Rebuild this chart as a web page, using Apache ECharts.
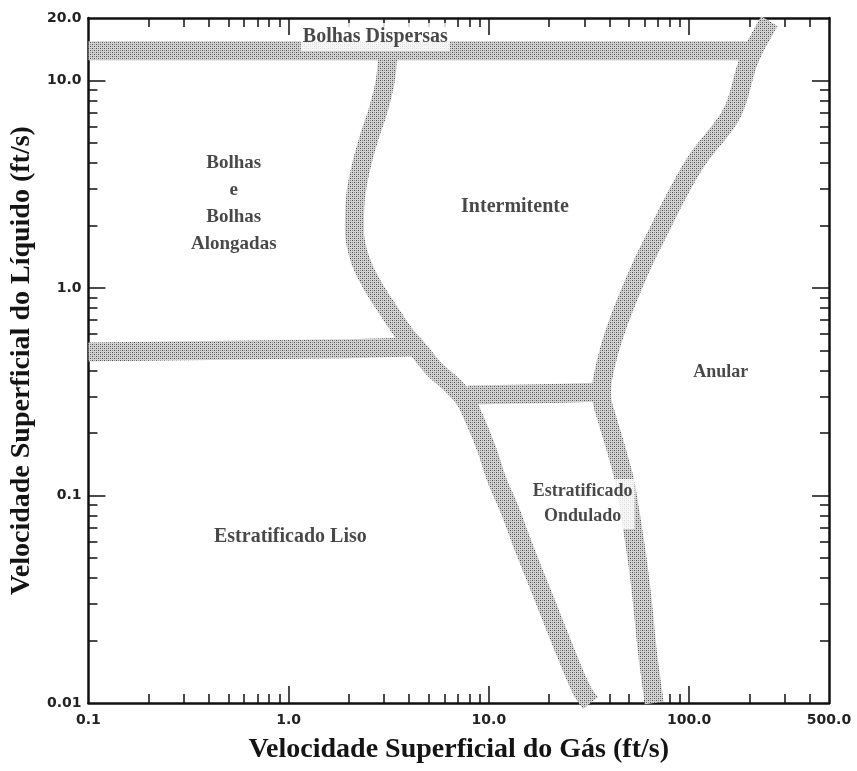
<!DOCTYPE html>
<html><head><meta charset="utf-8">
<script src="https://cdn.jsdelivr.net/npm/echarts@6/dist/echarts.min.js"></script>
<style>html,body{margin:0;padding:0;background:#fff}#c{width:857px;height:771px}</style>
</head><body><div id="c"></div>
<script>
// ---- axis ticks / labels ----
const xLabelValues = [0.1, 1, 10, 100, 500];
const xMajorTicks = [1, 10, 100];
const xMinorTicks = [0.2,0.3,0.4,0.5,0.6,0.7,0.8,0.9, 2,3,4,5,6,7,8,9, 20,30,40,50,60,70,80,90, 200,300,400];
const yLabelValues = [0.01, 0.1, 1, 10, 20];
const yMajorTicks = [0.1, 1, 10];
const yMinorTicks = [0.02,0.03,0.04,0.05,0.06,0.07,0.08,0.09, 0.2,0.3,0.4,0.5,0.6,0.7,0.8,0.9, 2,3,4,5,6,7,8,9];

// ---- boundary bands [gas ft/s, liquid ft/s] ----
const dispersedBubbleBoundary = [[0.1,13.9],[1,13.9],[10,13.9],[100,13.9],[215,13.9]];
const bubbleSlugBoundary = [[3.13,13.9],[3.04,10.0],[2.80,7.2],[2.50,5.16],[2.28,3.70],[2.15,2.65],[2.13,1.90],[2.28,1.36],[2.62,1.03],[3.14,0.783],[3.82,0.594],[4.44,0.503],[5.39,0.403],[6.54,0.341],[7.60,0.289],[8.51,0.231],[9.77,0.166],[10.96,0.119],[12.7,0.0853],[15.1,0.0547],[19.0,0.0314],[23.9,0.0180],[29.0,0.0116],[32.2,0.01]];
const stratifiedBubbleBoundary = [[0.1,0.492],[0.65,0.503],[2,0.51],[4.2,0.52]];
const wavySlugBoundary = [[7.87,0.305],[17.9,0.309],[36.5,0.315]];
const annularBoundary = [[252,19.3],[199,12.5],[164,6.97],[109.6,4.14],[84.2,2.65],[70.9,1.90],[59.7,1.36],[51.4,0.978],[44.8,0.701],[40.0,0.503],[36.9,0.360],[36.5,0.305],[39.1,0.231],[43.3,0.166],[47.5,0.119],[51.4,0.0763],[55.1,0.0490],[58.3,0.0314],[61.8,0.0180],[67.0,0.01]];

// ---- region labels ----
const regionNames = ['Bolhas Dispersas','Intermitente','Bolhas\ne\nBolhas\nAlongadas','Anular','Estratificado\nOndulado','Estratificado Liso'];
const regionGas = [2.71, 13.5, 0.532, 144, 29.4, 1.02];
const regionLiquid = [16.2, 2.46, 2.54, 0.394, 0.0911, 0.0632];
const regionFontSize = [20, 20, 19, 18, 18, 20];

function fmt(v){ const n = Number(Number(v).toPrecision(6)); return n < 1 ? String(n) : n.toFixed(1); }

function stipple(){
  const c = document.createElement('canvas'); c.width = 4; c.height = 4;
  const g = c.getContext('2d');
  g.fillStyle = '#d2d2d2'; g.fillRect(0,0,4,4);
  g.fillStyle = '#505050'; g.fillRect(0,0,1,1); g.fillRect(2,2,1,1);
  g.fillStyle = '#8c8c8c'; g.fillRect(2,0,1,1); g.fillRect(0,2,1,1);
  return c;
}
const bandColor = {image: stipple(), repeat: 'repeat'};

const chart = echarts.init(document.getElementById('c'), null, {renderer:'canvas'});
const axisTxt = {fontFamily:'DejaVu Sans', fontWeight:'bold', fontSize:14, color:'#222'};
const lineSt = {color:'#111', width:2.5};
const titleTxt = {fontFamily:'Liberation Serif', fontWeight:'bold', fontSize:28, color:'#141414'};

function xAx(pos, major, showLine, withLabels){
  const a = {type:'log', logBase:10, min:0.1, max:500, position:pos,
    axisLine:{show:showLine, lineStyle:lineSt},
    axisTick:{show:true, inside:true, length: major ? 17 : 9, customValues: major ? xMajorTicks : xMinorTicks, lineStyle:{color:'#111', width:1.5}},
    axisLabel:{show:withLabels}, splitLine:{show:false}, minorTick:{show:false}};
  if (withLabels){
    a.axisLabel = Object.assign({show:true, customValues:xLabelValues, formatter:fmt, margin:10}, axisTxt);
    a.name = 'Velocidade Superficial do Gás (ft/s)';
    a.nameLocation = 'middle'; a.nameGap = 33;
    a.nameTextStyle = titleTxt;
  }
  return a;
}
function yAx(pos, major, showLine, withLabels){
  const a = {type:'log', logBase:10, min:0.01, max:20, position:pos,
    axisLine:{show:showLine, lineStyle:lineSt},
    axisTick:{show:true, inside:true, length: major ? 17 : 9, customValues: major ? yMajorTicks : yMinorTicks, lineStyle:{color:'#111', width:1.5}},
    axisLabel:{show:withLabels}, splitLine:{show:false}, minorTick:{show:false}};
  if (withLabels){
    a.axisLabel = Object.assign({show:true, customValues:yLabelValues, formatter:fmt, margin:7}, axisTxt);
    a.name = 'Velocidade Superficial do Líquido (ft/s)';
    a.nameLocation = 'middle'; a.nameGap = 52;
    a.nameTextStyle = titleTxt;
  }
  return a;
}

function band(name, data){
  return {name, type:'line', xAxisIndex:0, yAxisIndex:0, data, symbol:'none', smooth:0.35,
    lineStyle:{color:bandColor, width:19, cap:'butt', join:'round'}, silent:true, z:2, clip:true};
}

chart.setOption({
  animation:false,
  backgroundColor:'#fff',
  grid:{left:87, right:28, top:18, bottom:68, containLabel:false},
  xAxis:[xAx('bottom',true,true,true), xAx('bottom',false,false,false), xAx('top',true,true,false), xAx('top',false,false,false)],
  yAxis:[yAx('left',true,true,true), yAx('left',false,false,false), yAx('right',true,true,false), yAx('right',false,false,false)],
  series:[
    band('dispersed', dispersedBubbleBoundary),
    band('bubble-slug', bubbleSlugBoundary),
    band('stratified-bubble', stratifiedBubbleBoundary),
    band('wavy-slug', wavySlugBoundary),
    band('annular', annularBoundary),
    {type:'scatter', xAxisIndex:0, yAxisIndex:0, symbolSize:0, z:10, silent:true,
     data: regionNames.map((n,i)=>({value:[regionGas[i], regionLiquid[i]], name:n, label:{fontSize:regionFontSize[i], lineHeight:Math.round(regionFontSize[i]*1.4)}})),
     label:{show:true, position:'inside', formatter:p=>p.name, fontFamily:'Liberation Serif', fontWeight:'bold', fontSize:19, color:'#1a1a1a', lineHeight:27, align:'center', backgroundColor:'#fff', padding:[0,2]}}
  ]
});
</script></body></html>
